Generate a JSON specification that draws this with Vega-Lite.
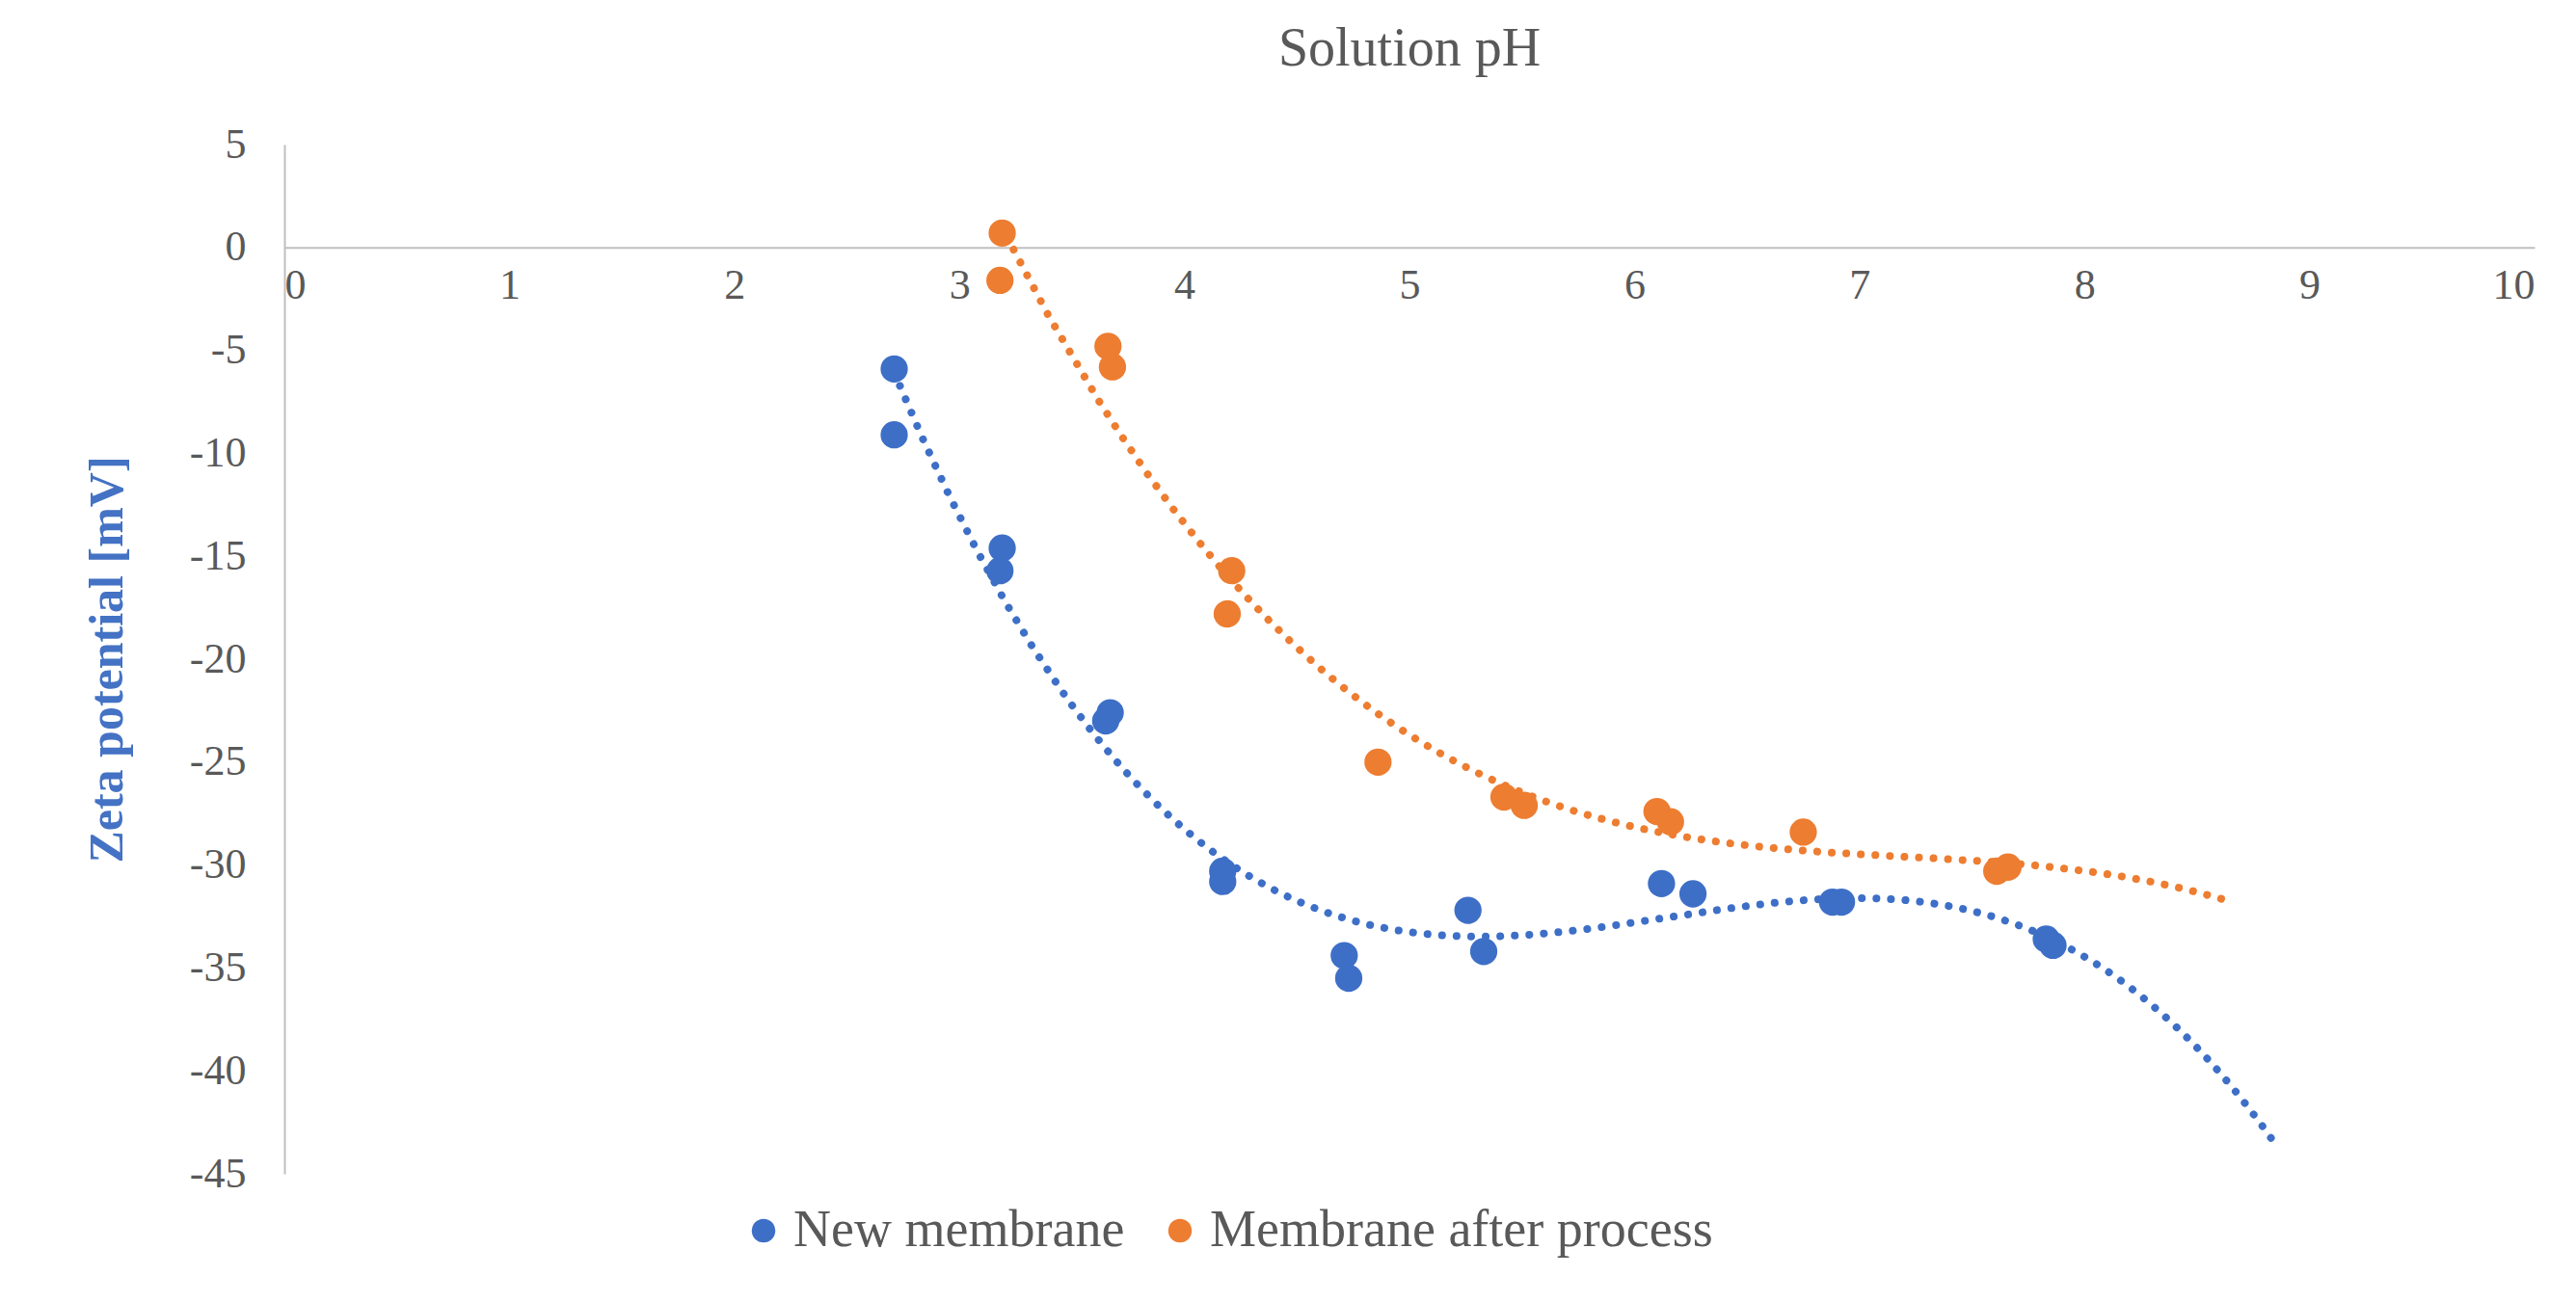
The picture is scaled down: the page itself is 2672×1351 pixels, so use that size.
{
  "$schema": "https://vega.github.io/schema/vega-lite/v6.json",
  "autosize": {"type": "none"},
  "padding": {"left": 295, "top": 150, "right": 43, "bottom": 133},
  "width": 2334,
  "height": 1068,
  "background": "white",
  "view": {"stroke": null},
  "title": {
    "text": "Solution pH",
    "font": "Liberation Serif",
    "fontSize": 56,
    "fontWeight": "normal",
    "color": "#595959",
    "offset": 48
  },
  "data": {
    "values": [
      {"series": "New membrane", "ph": 2.71, "zeta": -5.9},
      {"series": "New membrane", "ph": 2.71, "zeta": -9.1},
      {"series": "New membrane", "ph": 3.19, "zeta": -14.6},
      {"series": "New membrane", "ph": 3.18, "zeta": -15.7},
      {"series": "New membrane", "ph": 3.67, "zeta": -22.6},
      {"series": "New membrane", "ph": 3.65, "zeta": -23.0},
      {"series": "New membrane", "ph": 4.17, "zeta": -30.3},
      {"series": "New membrane", "ph": 4.17, "zeta": -30.8},
      {"series": "New membrane", "ph": 4.71, "zeta": -34.4},
      {"series": "New membrane", "ph": 4.73, "zeta": -35.5},
      {"series": "New membrane", "ph": 5.26, "zeta": -32.2},
      {"series": "New membrane", "ph": 5.33, "zeta": -34.2},
      {"series": "New membrane", "ph": 6.12, "zeta": -30.9},
      {"series": "New membrane", "ph": 6.26, "zeta": -31.4},
      {"series": "New membrane", "ph": 6.88, "zeta": -31.8},
      {"series": "New membrane", "ph": 6.92, "zeta": -31.8},
      {"series": "New membrane", "ph": 7.83, "zeta": -33.6},
      {"series": "New membrane", "ph": 7.86, "zeta": -33.9},
      {"series": "Membrane after process", "ph": 3.19, "zeta": 0.7},
      {"series": "Membrane after process", "ph": 3.18, "zeta": -1.6},
      {"series": "Membrane after process", "ph": 3.66, "zeta": -4.8},
      {"series": "Membrane after process", "ph": 3.68, "zeta": -5.8},
      {"series": "Membrane after process", "ph": 4.21, "zeta": -15.7},
      {"series": "Membrane after process", "ph": 4.19, "zeta": -17.8},
      {"series": "Membrane after process", "ph": 4.86, "zeta": -25.0},
      {"series": "Membrane after process", "ph": 5.42, "zeta": -26.7},
      {"series": "Membrane after process", "ph": 5.51, "zeta": -27.1},
      {"series": "Membrane after process", "ph": 6.10, "zeta": -27.4},
      {"series": "Membrane after process", "ph": 6.16, "zeta": -27.9},
      {"series": "Membrane after process", "ph": 6.75, "zeta": -28.4},
      {"series": "Membrane after process", "ph": 7.61, "zeta": -30.3},
      {"series": "Membrane after process", "ph": 7.66, "zeta": -30.1}
    ]
  },
  "encoding": {
    "x": {
      "field": "ph",
      "type": "quantitative",
      "scale": {"domain": [0, 10], "nice": false},
      "axis": {
        "orient": "bottom",
        "offset": -961.2,
        "values": [0, 1, 2, 3, 4, 5, 6, 7, 8, 9, 10],
        "grid": false,
        "ticks": false,
        "domainColor": "#bfbfbf",
        "domainWidth": 2,
        "labelFont": "Liberation Serif",
        "labelFontSize": 44,
        "labelColor": "#595959",
        "labelPadding": 18,
        "title": null
      }
    },
    "y": {
      "field": "zeta",
      "type": "quantitative",
      "scale": {"domain": [-45, 5], "nice": false, "zero": false},
      "axis": {
        "values": [5, 0, -5, -10, -15, -20, -25, -30, -35, -40, -45],
        "labelExpr": "replace(datum.label, '\u2212', '-')",
        "grid": false,
        "ticks": false,
        "domainColor": "#bfbfbf",
        "domainWidth": 2,
        "labelFont": "Liberation Serif",
        "labelFontSize": 44,
        "labelColor": "#595959",
        "labelPadding": 40,
        "title": "Zeta potential [mV]",
        "titleFont": "Liberation Serif",
        "titleFontSize": 50,
        "titleFontWeight": "bold",
        "titleColor": "#4472C4",
        "titlePadding": 60
      }
    },
    "color": {
      "field": "series",
      "type": "nominal",
      "scale": {
        "domain": ["New membrane", "Membrane after process"],
        "range": ["#3E6FC7", "#ED7D31"]
      },
      "legend": {
        "orient": "none",
        "legendX": 470,
        "legendY": 1100,
        "direction": "horizontal",
        "title": null,
        "symbolType": "circle",
        "symbolSize": 600,
        "symbolStrokeWidth": 0,
        "labelFont": "Liberation Serif",
        "labelFontSize": 54,
        "labelColor": "#595959",
        "columnPadding": 30,
        "labelLimit": 900
      }
    }
  },
  "layer": [
    {
      "transform": [
        {"filter": "datum.series === 'New membrane'"},
        {"regression": "zeta", "on": "ph", "method": "poly", "order": 3, "extent": [2.71, 8.85], "groupby": ["series"]}
      ],
      "mark": {"type": "line", "clip": true, "strokeWidth": 8, "strokeDash": [0.1, 15], "strokeCap": "round"},
      "encoding": {}
    },
    {
      "transform": [
        {"filter": "datum.series === 'Membrane after process'"},
        {"regression": "zeta", "on": "ph", "method": "poly", "order": 3, "extent": [3.18, 8.62], "groupby": ["series"]}
      ],
      "mark": {"type": "line", "clip": true, "strokeWidth": 8, "strokeDash": [0.1, 15], "strokeCap": "round"},
      "encoding": {}
    },
    {
      "mark": {"type": "point", "filled": true, "size": 800, "opacity": 1, "shape": "circle"}
    }
  ]
}
